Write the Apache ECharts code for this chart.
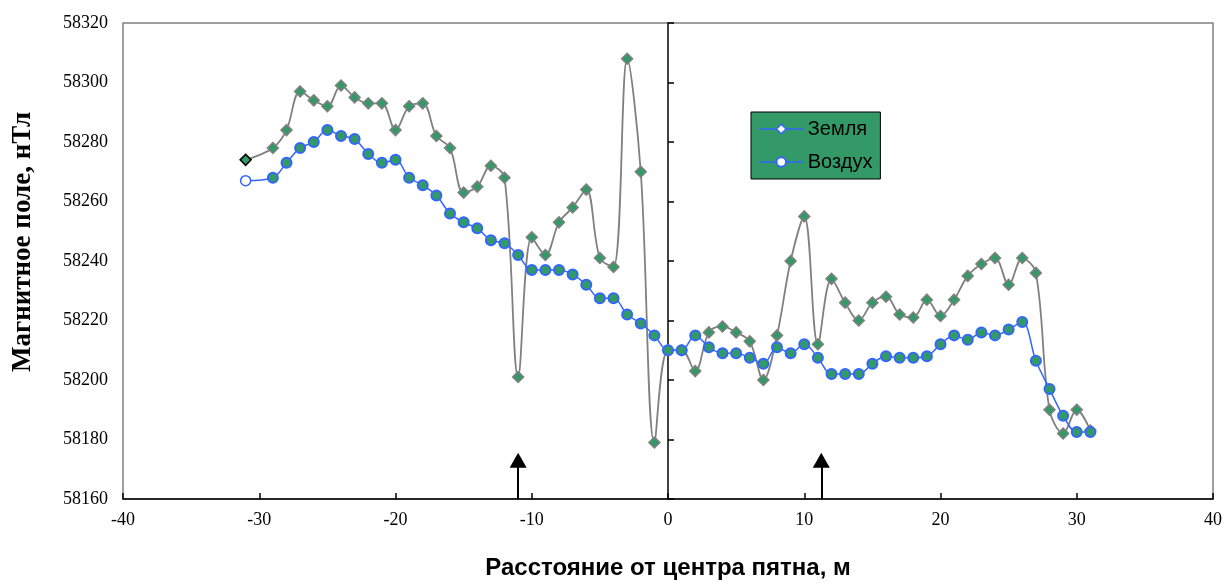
<!DOCTYPE html>
<html>
<head>
<meta charset="utf-8">
<script src="https://cdn.jsdelivr.net/npm/echarts@6/dist/echarts.min.js"></script>
<style>
    html, body { margin: 0; padding: 0; background: #fff; }
    #chart { width: 1228px; height: 586px; }
</style>
</head>
<body>
<div id="chart"></div>
<script>
// расстояние от центра пятна, м
var distances = [-31, -29, -28, -27, -26, -25, -24, -23, -22, -21, -20, -19, -18, -17, -16, -15, -14, -13, -12, -11,
    -10, -9, -8, -7, -6, -5, -4, -3, -2, -1, 0, 1, 2, 3, 4, 5, 6, 7, 8, 9, 10, 11, 12, 13, 14, 15, 16, 17, 18, 19, 20,
    21, 22, 23, 24, 25, 26, 27, 28, 29, 30, 31];

// Земля
var groundField = [58274, 58278, 58284, 58297, 58294, 58292, 58299, 58295, 58293, 58293, 58284, 58292, 58293, 58282, 58278, 58263, 58265, 58272, 58268, 58201,
    58248, 58242, 58253, 58258, 58264, 58241, 58238, 58308, 58270, 58179, 58210, 58210, 58203, 58216, 58218, 58216, 58213, 58200, 58215, 58240, 58255,
    58212, 58234, 58226, 58220, 58226, 58228, 58222, 58221, 58227, 58221.5, 58227, 58235, 58239, 58241, 58232, 58241, 58236, 58190, 58182, 58190, 58183];

// Воздух
var airField = [58267, 58268, 58273, 58278, 58280, 58284, 58282, 58281, 58276, 58273, 58274, 58268, 58265.5, 58262, 58256, 58253, 58251, 58247, 58246, 58242,
    58237, 58237, 58237, 58235.5, 58232, 58227.5, 58227.5, 58222, 58219, 58215, 58210, 58210, 58215, 58211, 58209, 58209, 58207.5, 58205.5, 58211, 58209, 58212,
    58207.5, 58202, 58202, 58202, 58205.5, 58208, 58207.5, 58207.5, 58208, 58212, 58215, 58213.5, 58216, 58215, 58217, 58219.5, 58206.5, 58197, 58188, 58182.5, 58182.5];

// стрелки: положение по X и высота острия
var arrowX = [-11, 11.25];
var arrowTop = 58173;

var GREEN = "#339966";
var BLUE = "#3366ff";
var GRAY = "#808080";

function makeData(values, firstStyle) {
    var res = [];
    for (var i = 0; i < distances.length; i++) {
        var p = { value: [distances[i], values[i]] };
        if (i === 0) p.itemStyle = firstStyle;
        res.push(p);
    }
    return res;
}

var chartDom = document.getElementById("chart");
var myChart = echarts.init(chartDom);

var serif = "Liberation Serif";
var sans = "Liberation Sans";

var option = {
    animation: false,
    backgroundColor: "#fff",
    grid: {
        left: 123,
        right: 15,
        top: 23,
        bottom: 87,
        containLabel: false,
        outerBoundsMode: "none",
        show: true,
        borderColor: GRAY,
        borderWidth: 1.5,
        backgroundColor: "transparent",
    },
    legend: {
        orient: "vertical",
        left: 751,
        top: 112,
        backgroundColor: GREEN,
        borderColor: "#000",
        borderWidth: 1,
        borderRadius: 0,
        padding: [7, 8, 7, 8],
        itemGap: 13,
        itemWidth: 43,
        itemHeight: 12,
        textStyle: { fontFamily: sans, fontSize: 20, color: "#000" },
        data: [
            {
                name: "Земля",
                itemStyle: { color: "#fff", borderColor: BLUE, borderWidth: 1.5 },
                lineStyle: { color: BLUE, width: 1.5 },
            },
            {
                name: "Воздух",
                itemStyle: { color: "#fff", borderColor: BLUE, borderWidth: 2 },
                lineStyle: { color: BLUE, width: 1.5 },
            },
        ],
    },
    xAxis: {
        type: "value",
        min: -40,
        max: 40,
        interval: 10,
        name: "Расстояние от центра пятна, м",
        nameLocation: "middle",
        nameGap: 57,
        nameTextStyle: { fontFamily: sans, fontSize: 24, fontWeight: "bold", color: "#000" },
        axisLine: { onZero: false, lineStyle: { color: "#000", width: 1.5 } },
        axisTick: { inside: true, length: 6, lineStyle: { color: "#000", width: 1.5 } },
        axisLabel: { fontFamily: serif, fontSize: 18, color: "#000", margin: 12 },
        splitLine: { show: false },
    },
    yAxis: [
        {
            type: "value",
            min: 58160,
            max: 58320,
            interval: 20,
            position: "left",
            name: "Магнитное поле, нТл",
            nameLocation: "middle",
            nameRotate: 90,
            nameGap: 86,
            nameTextStyle: { fontFamily: serif, fontSize: 27, fontWeight: "bold", color: "#000", padding: [0, 0, 0, 38] },
            axisLine: { show: false, onZero: false },
            axisTick: { show: false },
            axisLabel: {
                fontFamily: serif,
                fontSize: 18,
                color: "#000",
                margin: 15,
                formatter: function (v) {
                    return String(v);
                },
            },
            splitLine: { show: false },
        },
        {
            // вертикальная линия на нуле с делениями
            type: "value",
            min: 58160,
            max: 58320,
            interval: 20,
            position: "right",
            axisLine: { show: true, onZero: true, onZeroAxisIndex: 0, lineStyle: { color: "#000", width: 1.5 } },
            axisTick: { show: true, inside: false, length: 6, lineStyle: { color: "#000", width: 1.5 } },
            axisLabel: { show: false },
            splitLine: { show: false },
        },
    ],
    series: [
        {
            name: "Земля",
            type: "line",
            smooth: 0.35,
            symbol: "diamond",
            symbolSize: 11,
            showAllSymbol: true,
            lineStyle: { color: GRAY, width: 1.8 },
            itemStyle: { color: GREEN, borderColor: GRAY, borderWidth: 1.5 },
            data: makeData(groundField, { color: GREEN, borderColor: "#000", borderWidth: 1.5 }),
            markLine: {
                silent: true,
                symbol: ["none", "triangle"],
                symbolSize: [17, 15],
                label: { show: false },
                lineStyle: { color: "#000", width: 2, type: "solid" },
                emphasis: { disabled: true },
                data: arrowX.map(function (x) {
                    return [{ coord: [x, 58160] }, { coord: [x, arrowTop] }];
                }),
            },
        },
        {
            name: "Воздух",
            type: "line",
            smooth: 0.35,
            symbol: "circle",
            symbolSize: 10,
            showAllSymbol: true,
            lineStyle: { color: BLUE, width: 1.5 },
            itemStyle: { color: GREEN, borderColor: BLUE, borderWidth: 2 },
            data: makeData(airField, { color: "#fff", borderColor: BLUE, borderWidth: 1.5 }),
        },
    ],
};
option && myChart.setOption(option, true);
</script>
</body>
</html>
